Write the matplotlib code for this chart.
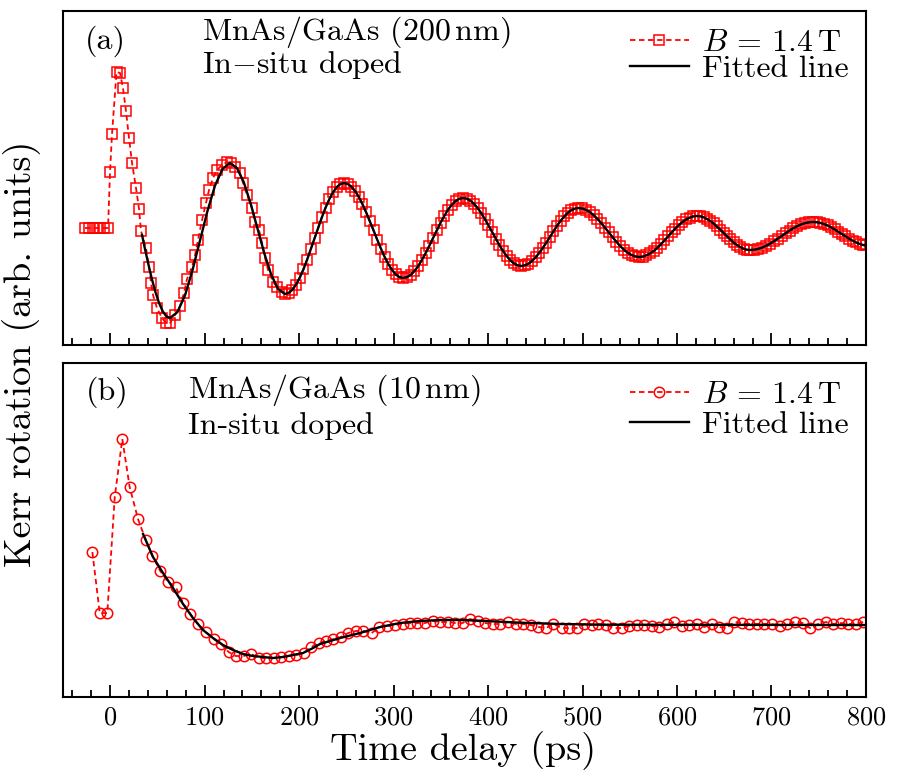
import matplotlib
matplotlib.use('Agg')
import matplotlib.pyplot as plt
from matplotlib.ticker import MultipleLocator

plt.rcParams['font.family'] = 'cmr10'
plt.rcParams['mathtext.fontset'] = 'cm'
plt.rcParams['axes.formatter.use_mathtext'] = True

# ---- panel (a): MnAs/GaAs (200 nm) ----
# measured squares before and through the first oscillation
t_a_early = [-26.7, -22.4, -18.2, -14.0, -10.8, -6.6, -2.3,
             -0.2, 1.9, 6.7, 10.4, 13.5, 16.7, 19.9, 23.1, 27.3, 30.5, 32.6,
             37.9, 41.1, 43.2, 45.3, 49.5, 54.8, 59.1, 63.3, 68.6, 73.9,
             78.1, 81.3, 86.6, 89.8, 92.9, 97.2, 101.4, 104.6, 108.8, 113.1,
             118.4, 123.7, 127.9, 132.1, 137.4, 140.6, 144.9, 150.1, 153.3,
             157.5, 160.7, 163.9, 167.1, 172.4, 176.6, 181.9]
v_a_early = [0.0, 0.0, 0.0, 0.0, 0.0, 0.0, 0.0,
             0.56, 0.94, 1.56, 1.55, 1.40, 1.17, 0.90, 0.65, 0.40, 0.19, -0.03,
             -0.20, -0.39, -0.55, -0.67, -0.80, -0.90, -0.95, -0.95, -0.87, -0.78,
             -0.65, -0.51, -0.39, -0.27, -0.12, 0.08, 0.25, 0.38, 0.50, 0.58,
             0.63, 0.66, 0.65, 0.61, 0.55, 0.45, 0.33, 0.20, 0.06,
             -0.02, -0.15, -0.30, -0.42, -0.54, -0.59, -0.64]

# fitted line over the first oscillation
t_fit_a_early = [33.7, 36.3, 40.2, 44.0, 47.9, 51.7, 55.6, 59.4, 63.3,
                 71.2, 79.2, 87.1, 95.1, 103.0, 110.9, 118.9, 126.8,
                 134.1, 141.4, 148.6, 155.9, 163.2, 170.5, 177.7]
v_fit_a_early = [-0.07, -0.188, -0.354, -0.507, -0.641, -0.750, -0.833, -0.883, -0.900,
                 -0.841, -0.673, -0.422, -0.125, 0.172, 0.423, 0.591, 0.650,
                 0.600, 0.458, 0.246, -0.005, -0.256, -0.468, -0.610]

# later oscillations, where squares and fit overlap
t_a_late = [185.0, 188.9, 192.8, 196.7, 200.6, 204.5, 208.4, 212.3, 216.3, 220.2,
            224.1, 228.0, 231.9, 235.8, 239.7, 243.6, 247.5,
            251.4, 255.3, 259.2, 263.1, 267.0, 270.9, 274.8, 278.8, 282.7,
            286.6, 290.5, 294.4, 298.3, 302.2, 306.1, 310.0,
            314.0, 317.9, 321.9, 325.9, 329.8, 333.8, 337.8, 341.8, 345.7,
            349.7, 353.7, 357.6, 361.6, 365.6, 369.5, 373.5,
            377.3, 381.2, 385.0, 388.9, 392.7, 396.6, 400.4, 404.3, 408.1,
            411.9, 415.8, 419.6, 423.5, 427.3, 431.2, 435.0,
            438.8, 442.6, 446.4, 450.2, 454.0, 457.8, 461.6, 465.4, 469.1,
            472.9, 476.7, 480.5, 484.3, 488.1, 491.9, 495.7,
            499.7, 503.7, 507.8, 511.8, 515.8, 519.8, 523.8, 527.9, 531.9,
            535.9, 539.9, 543.9, 548.0, 552.0, 556.0, 560.0,
            563.8, 567.6, 571.4, 575.3, 579.1, 582.9, 586.7, 590.5, 594.3,
            598.1, 601.9, 605.8, 609.6, 613.4, 617.2, 621.0,
            624.5, 628.1, 631.6, 635.1, 638.7, 642.2, 645.7, 649.3, 652.8,
            656.3, 659.8, 663.4, 666.9, 670.4, 674.0, 677.5,
            681.7, 685.8, 690.0, 694.1, 698.3, 702.4, 706.6, 710.8, 714.9,
            719.1, 723.2, 727.4, 731.5, 735.7, 739.8, 744.0,
            747.8, 751.6, 755.4, 759.3, 763.1, 766.9, 770.7, 774.5, 778.3,
            782.1, 785.9, 789.8, 793.6, 797.4, 800.0]
v_a_late = [-0.660, -0.649, -0.618, -0.566, -0.497, -0.414, -0.318, -0.213, -0.105, 0.003,
            0.108, 0.204, 0.287, 0.356, 0.408, 0.439, 0.450,
            0.441, 0.414, 0.370, 0.311, 0.239, 0.157, 0.068, -0.025, -0.118,
            -0.207, -0.289, -0.361, -0.420, -0.464, -0.491, -0.500,
            -0.492, -0.470, -0.432, -0.383, -0.322, -0.253, -0.178, -0.100, -0.022,
            0.053, 0.122, 0.183, 0.232, 0.270, 0.292, 0.300,
            0.294, 0.274, 0.243, 0.200, 0.149, 0.090, 0.026, -0.040, -0.106,
            -0.170, -0.229, -0.280, -0.323, -0.354, -0.374, -0.380,
            -0.374, -0.358, -0.331, -0.295, -0.251, -0.201, -0.147, -0.090, -0.033,
            0.021, 0.071, 0.115, 0.151, 0.178, 0.194, 0.200,
            0.195, 0.181, 0.159, 0.128, 0.091, 0.049, 0.003, -0.045, -0.093,
            -0.139, -0.181, -0.218, -0.249, -0.271, -0.285, -0.290,
            -0.286, -0.274, -0.255, -0.230, -0.199, -0.164, -0.125, -0.085, -0.045,
            -0.006, 0.029, 0.060, 0.085, 0.104, 0.116, 0.120,
            0.117, 0.107, 0.091, 0.070, 0.045, 0.015, -0.017, -0.050, -0.083,
            -0.115, -0.145, -0.170, -0.191, -0.207, -0.217, -0.220,
            -0.217, -0.209, -0.196, -0.179, -0.158, -0.134, -0.107, -0.080, -0.053,
            -0.026, -0.002, 0.019, 0.036, 0.049, 0.057, 0.060,
            0.058, 0.051, 0.040, 0.025, 0.007, -0.014, -0.037, -0.060, -0.083,
            -0.106, -0.127, -0.145, -0.160, -0.171, -0.175]

# ---- panel (b): MnAs/GaAs (10 nm) ----
t_b = [-18.9, -11.1, -3.1, 4.8, 12.8, 20.6, 29.4, 37.6, 44.6, 53.0,
       61.2, 69.3, 77.1, 84.8, 92.9, 101.1, 109.5, 117.6, 125.4, 132.8,
       141.3, 149.3, 157.5, 165.2, 173.4, 181.1, 189.3, 197.0, 204.8, 212.9,
       221.0, 228.4, 236.2, 244.3, 252.0, 260.2, 267.9, 276.8, 284.8, 293.3,
       301.5, 309.6, 317.3, 325.1, 333.2, 341.4, 349.1, 357.3, 365.0, 373.1,
       380.9, 389.0, 396.7, 404.9, 412.6, 421.4, 429.6, 437.3, 445.1, 453.2,
       461.3, 469.0, 477.9, 486.0, 493.8, 501.9, 510.0, 516.7, 524.8, 532.6,
       541.4, 549.5, 557.3, 565.4, 573.2, 581.3, 589.0, 597.1, 604.9, 613.0,
       620.8, 628.9, 636.7, 644.8, 652.5, 660.6, 668.8, 676.5, 684.3, 692.1,
       700.2, 709.0, 716.7, 724.9, 733.0, 740.7, 749.5, 757.7, 765.4, 773.6,
       781.3, 789.5, 797.2]
v_b = [0.98, 0.37, 0.37, 1.53, 2.11, 1.63, 1.31, 1.10, 0.94, 0.79,
       0.68, 0.63, 0.47, 0.36, 0.26, 0.18, 0.11, 0.06, -0.02, -0.06,
       -0.06, -0.04, -0.08, -0.08, -0.08, -0.07, -0.06, -0.05, -0.03, 0.03,
       0.07, 0.09, 0.11, 0.13, 0.17, 0.19, 0.19, 0.17, 0.23, 0.24,
       0.25, 0.26, 0.27, 0.27, 0.27, 0.29, 0.28, 0.28, 0.27, 0.27,
       0.31, 0.29, 0.27, 0.26, 0.26, 0.28, 0.26, 0.26, 0.25, 0.23,
       0.22, 0.26, 0.22, 0.22, 0.22, 0.26, 0.25, 0.26, 0.25, 0.22,
       0.22, 0.24, 0.25, 0.25, 0.24, 0.23, 0.26, 0.28, 0.24, 0.25,
       0.26, 0.23, 0.26, 0.23, 0.22, 0.28, 0.27, 0.26, 0.26, 0.26,
       0.26, 0.24, 0.26, 0.28, 0.27, 0.22, 0.26, 0.28, 0.26, 0.27,
       0.26, 0.26, 0.28]

t_fit_b = [34.8, 45.3, 55.9, 66.5, 77.1, 87.6, 98.2, 108.8, 119.4, 130.0,
           140.6, 151.2, 161.7, 172.3, 182.9, 193.5, 204.1, 214.7, 222.1, 243.3,
           264.4, 285.6, 306.8, 328.0, 349.2, 370.4, 391.5, 412.7, 433.9, 455.1,
           476.3, 497.4, 518.6, 800.0]
v_fit_b = [1.16, 0.93, 0.77, 0.62, 0.46, 0.32, 0.20, 0.12, 0.05, 0.00,
           -0.04, -0.06, -0.07, -0.08, -0.07, -0.05, -0.03, 0.02, 0.06, 0.12,
           0.17, 0.23, 0.27, 0.29, 0.30, 0.30, 0.293, 0.283, 0.273, 0.267,
           0.26, 0.257, 0.253, 0.25]

data_label = r'$B\,{=}\,1.4\,\mathrm{T}$'
text_size = 23

fig = plt.figure(figsize=(9.01, 7.8), dpi=100)
ax1 = fig.add_axes([0.0699, 0.5577, 0.8912, 0.4282])
ax2 = fig.add_axes([0.0699, 0.1064, 0.8912, 0.4282], sharex=ax1)

ax1.plot(t_a_early + t_a_late, v_a_early + v_a_late, color='red', ls='--',
         dashes=(3, 2), lw=1.3, marker='s', ms=7, mfc='none', mec='red',
         mew=1.1, label=data_label)
ax1.plot(t_fit_a_early + t_a_late, v_fit_a_early + v_a_late, color='black',
         lw=1.7, label='Fitted line')

ax2.plot(t_b, v_b, color='red', ls='--', dashes=(3, 2), lw=1.3, marker='o',
         ms=7.5, mfc='none', mec='red', mew=1.1, label=data_label)
ax2.plot(t_fit_b, v_fit_b, color='black', lw=1.7, label='Fitted line')

ax1.set_ylim(-1.17, 2.17)
ax2.set_ylim(-0.47, 2.87)
ax1.set_xlim(-50, 800)

for ax, spacing in ((ax1, -0.08), (ax2, 0.05)):
    ax.set_yticks([])
    ax.xaxis.set_major_locator(MultipleLocator(100))
    ax.xaxis.set_minor_locator(MultipleLocator(20))
    ax.tick_params(axis='x', which='major', direction='in', length=9, width=1.3,
                   labelsize=19, pad=6)
    ax.tick_params(axis='x', which='minor', direction='in', length=5, width=1.3)
    for s in ax.spines.values():
        s.set_linewidth(1.5)
    ax.legend(loc='upper right', frameon=False, fontsize=text_size,
              handlelength=1.85, handletextpad=0.4, labelspacing=spacing,
              borderaxespad=0.35, borderpad=0.2)
ax1.tick_params(axis='x', labelbottom=False)

ax1.text(0.027, 0.91, '(a)', transform=ax1.transAxes, fontsize=text_size,
         va='center')
ax1.text(0.173, 0.891, 'MnAs/GaAs (200$\\,$nm)\nIn$-$situ doped',
         transform=ax1.transAxes, fontsize=text_size, va='center',
         linespacing=0.95)

ax2.text(0.029, 0.913, '(b)', transform=ax2.transAxes, fontsize=text_size,
         va='center')
ax2.text(0.156, 0.870, 'MnAs/GaAs (10$\\,$nm)\nIn-situ doped',
         transform=ax2.transAxes, fontsize=text_size, va='center',
         linespacing=1.2)

fig.text(0.514, 0.038, 'Time delay (ps)', fontsize=27.5, ha='center',
         va='center')
fig.text(0.024, 0.546, 'Kerr rotation (arb. units)', fontsize=27.5,
         ha='center', va='center', rotation=90)

fig.savefig('out.png', dpi=100)
